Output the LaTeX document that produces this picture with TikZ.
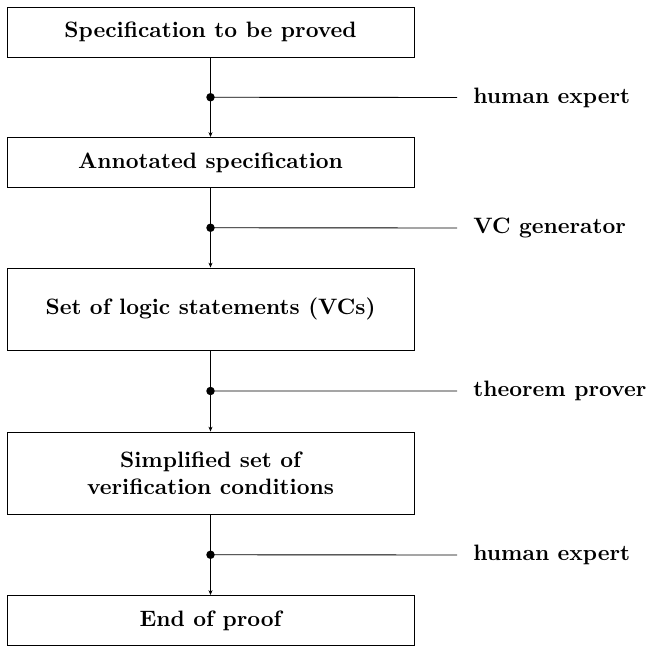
\documentclass[tikz,border=0pt]{standalone}
\usepackage{tikz}
\usetikzlibrary{arrows.meta,calc}

\begin{document}
\begin{tikzpicture}[x=0.449pt,y=-0.449pt,
    stage/.style={draw,minimum width=407*0.449pt,minimum height=50*0.449pt,align=center,font=\bfseries,inner sep=0pt},
    tall/.style={stage,minimum height=82*0.449pt},
    feed/.style={anchor=west,font=\bfseries,inner sep=0pt},
    flow/.style={-{Stealth[length=2.2pt,width=1.8pt]}}]
    \useasboundingbox (0,0) rectangle (650,652);
    % Stages
    \node[stage] (spec) at (210.5,32) {Specification to be proved};
    \node[stage] (annot) at (210.5,162.5) {Annotated specification};
    \node[tall] (vcs) at (210.5,309) {Set of logic statements (VCs)};
    \node[tall] (simpl) at (210.5,473) {Simplified set of\\verification conditions};
    \node[stage] (endp) at (210.5,620.5) {End of proof};
    % Inputs
    \node[feed] (in1) at (473,97.5) {human expert};
    \node[feed] (in2) at (473,228) {VC generator};
    \node[feed] (in3) at (473,391) {theorem prover};
    \node[feed] (in4) at (473,555) {human expert};
    % Connectors
    \foreach \a/\b/\i in {spec/annot/in1,annot/vcs/in2,vcs/simpl/in3,simpl/endp/in4}{
      \coordinate (j) at ($(\a.south)!0.5!(\b.north)$);
      \draw[flow] (\a.south) -- (\b.north);
      \draw (j) -- (\i.west -| 457,0);
      \fill (j) circle (1.9pt);
    }
\end{tikzpicture}
\end{document}
